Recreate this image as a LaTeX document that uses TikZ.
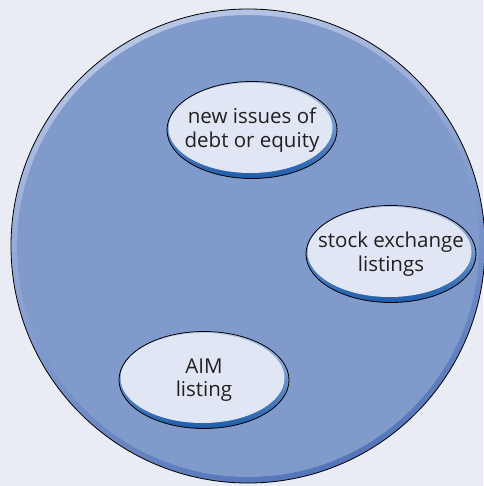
\documentclass[tikz,border=0pt]{standalone}
\usepackage{fontspec}
\setmainfont{Open Sans}
\usepackage{tikz}
\usetikzlibrary{shapes.geometric}
\usepackage{xcolor}

\definecolor{pagebg}{RGB}{233,235,245}
\definecolor{marketblue}{RGB}{127,154,203}
\definecolor{rimlight}{RGB}{184,198,230}
\definecolor{rimdark}{RGB}{84,117,184}
\definecolor{bubblefill}{RGB}{225,230,244}
\definecolor{bubblerim}{RGB}{30,92,172}
\definecolor{textgray}{RGB}{35,31,32}

\tikzset{
    bubble/.style={ellipse, draw=black, line width=0.8pt,
        top color=rimlight, middle color=bubblerim, bottom color=bubblerim,
        minimum width=170pt, minimum height=97pt,
        inner xsep=-16pt, inner ysep=0pt,
        align=center, text=textgray,
        font=\fontsize{20.5}{23.5}\selectfont,
        path picture={\fill[bubblefill]
            ([xshift=-1.5pt,yshift=2pt]path picture bounding box.center)
            ellipse (82pt and 45pt);}}
}

\begin{document}
\begin{tikzpicture}[x=1pt, y=-1pt]
        \useasboundingbox[fill=pagebg] (0,0) rectangle (483,486);
        % the market
        \shade[draw=black, line width=0.8pt, top color=rimlight, bottom color=rimdark,
               shading angle=20] (248,246) circle (237pt);
        \fill[marketblue] (248,246) circle (231pt);
        \foreach \nm/\x/\y/\txt in {issues/252/130/{new issues of\\debt or equity},
                                    listings/391/254/{stock exchange\\listings},
                                    aim/204/380/{AIM\\listing}}{
            \node[bubble] (\nm) at (\x,\y) {\txt};
        }
    \end{tikzpicture}
\end{document}
